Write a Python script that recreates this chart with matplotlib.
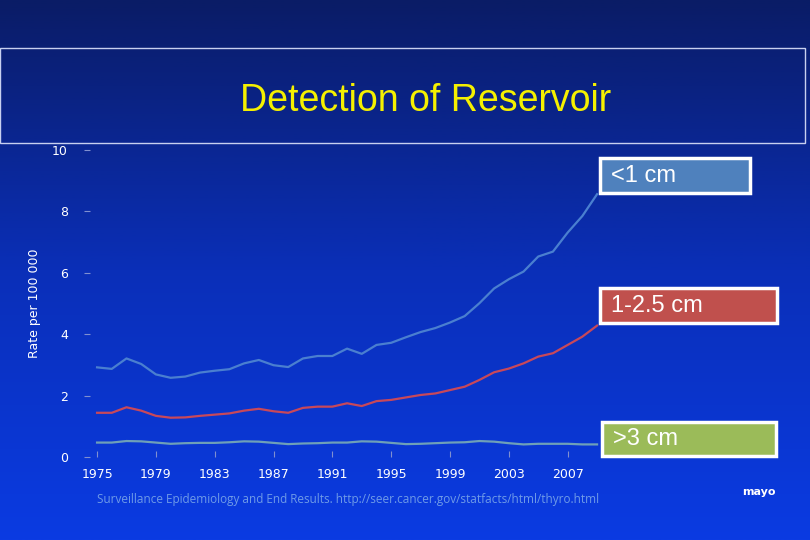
import numpy as np
import matplotlib
matplotlib.use("Agg")
import matplotlib.pyplot as plt
from matplotlib.colors import LinearSegmentedColormap
from matplotlib.patches import Rectangle

years = list(range(1975, 2010))
lt1 = [2.92,2.87,3.21,3.03,2.69,2.58,2.62,2.75,2.81,2.86,3.05,3.16,2.99,2.93,3.21,3.29,3.29,3.53,3.36,3.65,
       3.72,3.90,4.07,4.20,4.38,4.59,5.01,5.49,5.79,6.04,6.53,6.69,7.31,7.85,8.56]
mid = [1.44,1.44,1.62,1.51,1.34,1.28,1.29,1.34,1.38,1.42,1.51,1.57,1.49,1.44,1.60,1.64,1.64,1.75,1.66,1.82,
       1.86,1.94,2.02,2.07,2.18,2.29,2.51,2.76,2.88,3.05,3.27,3.38,3.65,3.92,4.28]
gt3 = [0.47,0.47,0.52,0.51,0.47,0.43,0.45,0.46,0.46,0.48,0.51,0.50,0.46,0.42,0.44,0.45,0.47,0.47,0.51,0.50,
       0.46,0.42,0.43,0.45,0.47,0.48,0.52,0.50,0.45,0.41,0.43,0.43,0.43,0.41,0.41]
yticks = [0, 2, 4, 6, 8, 10]
xticks = list(range(1975, 2008, 4))

fig = plt.figure(figsize=(8.1, 5.4), dpi=100)
bg = fig.add_axes([0, 0, 1, 1])
cmap = LinearSegmentedColormap.from_list("bg", ["#0a1c66", "#0a2fb8", "#0b3be2"])
bg.imshow(np.linspace(0, 1, 256)[:, None], aspect="auto", cmap=cmap, extent=[0, 1, 0, 1])
bg.set_xlim(0, 1); bg.set_ylim(0, 1); bg.axis("off")
bg.add_patch(Rectangle((0.0, 1-143/540), 805/810, 95/540, fill=False, ec="#c8d0f0", lw=1))
bg.text(0.525, 1-101/540, "Detection of Reservoir", color="#f5f000", fontsize=27, ha="center", va="center",
        family="Liberation Sans")
bg.text(0.43, 1-500/540, "Surveillance Epidemiology and End Results. http://seer.cancer.gov/statfacts/html/thyro.html",
        color="#6f9be8", fontsize=8.5, ha="center", va="center", family="Open Sans")
bg.text(0.937, 1-492/540, "mayo", color="white", fontsize=8, ha="center", va="center", fontweight="bold")

ax = fig.add_axes([90/810, 83/540, 510/810, 307/540])
ax.patch.set_alpha(0)
ax.plot(years, lt1, color="#4a7fd0", lw=1.6)
ax.plot(years, mid, color="#c8485a", lw=1.6)
ax.plot(years, gt3, color="#6ea0b8", lw=1.6)
ax.set_xlim(1974.52, 2009.2)
ax.set_ylim(0, 10)
for s in ax.spines.values():
    s.set_visible(False)
ax.set_yticks(yticks)
ax.set_yticklabels([str(v) for v in yticks], color="white", fontsize=9)
ax.tick_params(axis="y", length=4, color="#8090d0", pad=12)
ax.set_xticks(xticks)
ax.set_xticklabels([str(v) for v in xticks], color="white", fontsize=9)
ax.tick_params(axis="x", length=4, color="#8090d0", pad=8, direction="in")
ax.set_ylabel("Rate per 100 000", color="white", fontsize=9, labelpad=8)

boxes = [("<1 cm", "#4f81bd", 600, 158, 750, 193),
         ("1-2.5 cm", "#c0504d", 600, 288, 777, 323),
         (">3 cm", "#9bbb59", 602, 422, 776, 456)]
for label, c, x0, y0, x1, y1 in boxes:
    bg.add_patch(Rectangle((x0/810, 1-y1/540), (x1-x0)/810, (y1-y0)/540, fc=c, ec="white", lw=2.5))
    bg.text(x0/810 + 0.014, 1-(y0+y1)/2/540, label, color="white", fontsize=17, va="center", ha="left",
            family="Liberation Sans")

fig.savefig("out.png", dpi=100)
